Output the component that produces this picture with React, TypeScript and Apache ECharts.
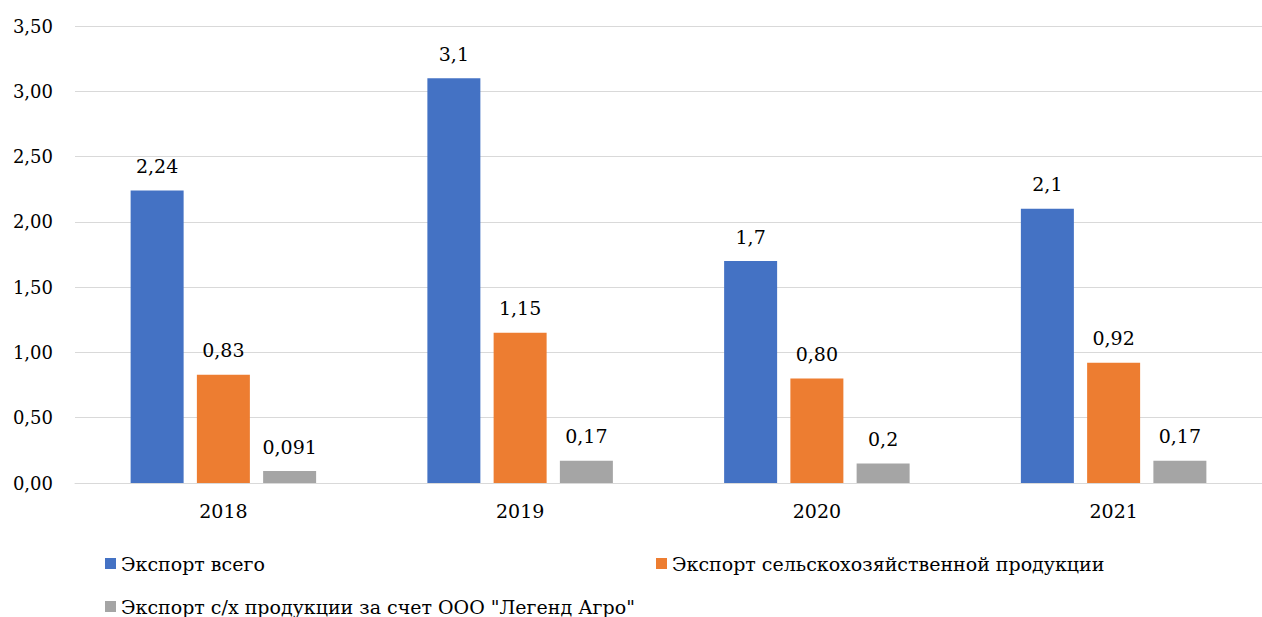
import React, { useEffect, useRef } from "react";
import * as echarts from "echarts";

const categories = ["2018", "2019", "2020", "2021"];
const seriesNames = [
  "Экспорт всего",
  "Экспорт сельскохозяйственной продукции",
  'Экспорт с/х продукции за счет ООО "Легенд Агро"',
];
const totalValues = [2.24, 3.1, 1.7, 2.1];
const totalLabels = ["2,24", "3,1", "1,7", "2,1"];
const agroValues = [0.83, 1.15, 0.8, 0.92];
const agroLabels = ["0,83", "1,15", "0,80", "0,92"];
const legendValues = [0.091, 0.17, 0.15, 0.17];
const legendLabels = ["0,091", "0,17", "0,2", "0,17"];
const colors = ["#4472C4", "#ED7D31", "#A5A5A5"];

const FONT = "DejaVu Serif";

export default function App() {
  const ref = useRef<HTMLDivElement>(null);
  useEffect(() => {
    const chart = echarts.init(ref.current!, null, { renderer: "svg" });
    const mk = (i: number, vals: number[], labels: string[]) => ({
      name: seriesNames[i],
      type: "bar",
      data: vals,
      barWidth: 53,
      barGap: "25%",
      itemStyle: { color: colors[i] },
      label: {
        show: true,
        position: "top",
        distance: 15,
        fontFamily: FONT,
        fontSize: 19,
        color: "#000",
        formatter: (p: any) => labels[p.dataIndex],
      },
    });
    const legendBase = {
      itemWidth: 11,
      itemHeight: 11,
      itemGap: 4,
      icon: "rect",
      textStyle: { fontFamily: FONT, fontSize: 19, color: "#000" },
    };
    chart.setOption({
      animation: false,
      textStyle: { fontFamily: FONT },
      grid: { left: 75, top: 26, width: 1199, height: 457 },
      legend: [
        { ...legendBase, left: 100, top: 549, data: [seriesNames[0]] },
        { ...legendBase, left: 651, top: 549, data: [seriesNames[1]] },
        { ...legendBase, left: 100, top: 592, data: [seriesNames[2]] },
      ],
      xAxis: {
        type: "category",
        data: categories,
        axisTick: { show: false },
        axisLine: { lineStyle: { color: "#D9D9D9" } },
        axisLabel: { fontFamily: FONT, fontSize: 19, color: "#000", margin: 18 },
      },
      yAxis: {
        type: "value",
        min: 0,
        max: 3.5,
        interval: 0.5,
        axisLine: { show: false },
        axisTick: { show: false },
        splitLine: { lineStyle: { color: "#D9D9D9" } },
        axisLabel: {
          fontFamily: FONT,
          fontSize: 18,
          color: "#000",
          margin: 22,
          formatter: (v: number) => v.toFixed(2).replace(".", ","),
        },
      },
      series: [
        mk(0, totalValues, totalLabels),
        mk(1, agroValues, agroLabels),
        mk(2, legendValues, legendLabels),
      ],
    });
    return () => chart.dispose();
  }, []);
  return <div ref={ref} style={{ width: 1262, height: 617, position: "absolute", left: 0, top: 0 }} />;
}
